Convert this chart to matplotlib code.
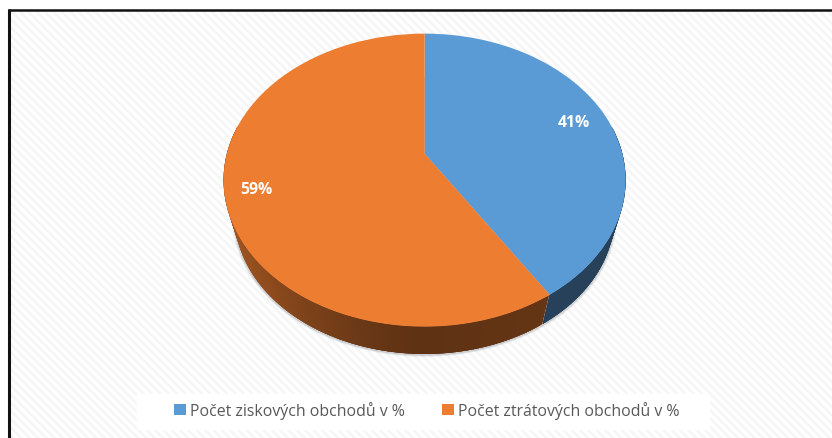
import numpy as np
import matplotlib
matplotlib.use("Agg")
import matplotlib.pyplot as plt
from matplotlib.patches import Patch, Rectangle
from matplotlib.transforms import Transform

categories = ["Počet ziskových obchodů v %", "Počet ztrátových obchodů v %"]
values = [41, 59]
colors = ["#5B9BD5", "#ED7D31"]

W, H = 832, 439
CX, CY, A, B, K = 424.6, 154.6, 197.7, 141.7, 0.181
ELL_CY, SCALE, DROP = 181, 0.945, 35.4

plt.rcParams["hatch.linewidth"] = 2.0


class Tilt(Transform):
    input_dims = output_dims = 2
    def transform_non_affine(self, xy):
        xy = np.asarray(xy, float)
        d = 1 + K * xy[:, 1]
        return np.column_stack((CX + A * xy[:, 0] / d, CY - B * xy[:, 1] / d))


fig = plt.figure(figsize=(W / 100, H / 100), dpi=100, facecolor="white")
ax = fig.add_axes([0, 0, 1, 1])
tilt = Tilt()

wedges, _, autotexts = ax.pie(values, colors=colors, startangle=90, counterclock=False,
                              autopct=lambda p: f"{round(p)}%", pctdistance=0.82,
                              textprops=dict(color="white", fontweight="bold", fontsize=11.3,
                                             family="Open Sans"))
ax.set_aspect("auto")
ax.set_xlim(0, W)
ax.set_ylim(H, 0)
ax.set_axis_off()
for w in wedges:
    w.set_transform(tilt + ax.transData)
    w.set_zorder(5)
    w.set_linewidth(0)
for t in autotexts:
    t.set_transform(tilt + ax.transData)
    t.set_zorder(6)
x59, y59 = autotexts[1].get_position()
autotexts[1].set_position((x59 * 1.035, y59 * 1.035))

# background: hatched panel, black rules on the top and left only
ax.add_patch(Rectangle((9, 12), W, H, facecolor="white", edgecolor="#f6f6f6", hatch="\\\\\\\\", lw=0, zorder=0.5))
ax.plot([8.5, 8.5], [10, H + 2], color="#111111", lw=2.2, zorder=1, solid_capstyle="butt")
ax.plot([7.5, W + 2], [11, 11], color="#111111", lw=1.8, zorder=1, solid_capstyle="butt")
ax.add_patch(Rectangle((137, 395), 573, 36, facecolor="white", edgecolor="none", zorder=1))

# side wall, built from the same slice angles
fractions = np.array(values) / sum(values)
edges = np.concatenate(([0], np.cumsum(fractions))) * 2 * np.pi


def rim(a):
    return tilt.transform(np.column_stack((np.sin(a), np.cos(a))))


def lower(p):
    return np.column_stack((CX + SCALE * (p[:, 0] - CX), ELL_CY + DROP + SCALE * (p[:, 1] - ELL_CY)))


def shade(color, a):
    rgb = np.array(matplotlib.colors.to_rgb(color))
    p = rim(np.array([a]))[0]
    s = (p[0] - CX) / 201
    f = 0.40 + 0.28 * max(-s, 0) ** 1.5 + 0.04 * max(s, 0)
    if color == colors[0]:
        f = 0.42
    return np.clip(rgb * f, 0, 1)


# soft shadow round the wall
full = lower(rim(np.linspace(0, 2 * np.pi, 300)))
for off, al in ((1.014, 0.12), (1.009, 0.16), (1.005, 0.2)):
    ax.fill(CX + (full[:, 0] - CX) * off, ELL_CY + DROP + 1 + (full[:, 1] - ELL_CY - DROP) * off,
            color="#8a8f99", alpha=al, lw=0, zorder=2)

# wall quads overlap the next step so no seams show
angles = np.linspace(np.pi / 2 - 0.2, 3 * np.pi / 2 + 0.2, 300)
for i, (a0, a1) in enumerate(zip(angles[:-1], angles[1:])):
    mid = (a0 + a1) / 2
    idx = 0 if mid < edges[1] else 1
    end = min(a1 + 0.03, edges[1]) if idx == 0 else a1 + 0.03
    end = min(end, angles[-1])
    arc = rim(np.array([a0, end]))
    low = lower(arc)
    col = shade(colors[idx], mid)
    ax.fill(np.r_[arc[:, 0], low[::-1, 0]], np.r_[arc[:, 1], low[::-1, 1]], color=col, lw=0, zorder=3)

handles = [Patch(facecolor=c, edgecolor="none") for c in colors]
leg = ax.legend(handles, categories, ncol=2, loc="center", bbox_to_anchor=(427 / W, 1 - 411 / H),
                frameon=False, handlelength=0.76, handleheight=0.76, handletextpad=0.25,
                columnspacing=2.35, borderpad=0, prop=dict(family="Open Sans", size=11.45), labelcolor="#595959")
leg.set_zorder(7)

fig.savefig("out.png", dpi=100)
